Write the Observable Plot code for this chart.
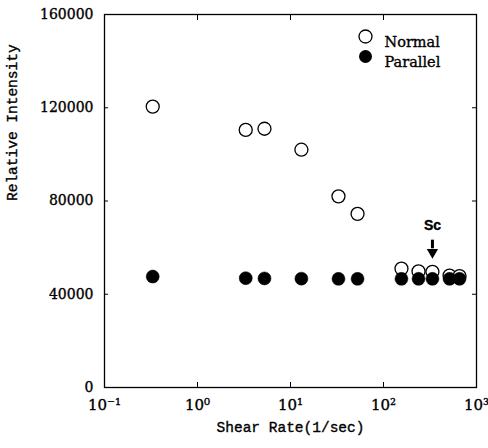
<!DOCTYPE html>
<html><head><meta charset="utf-8">
<script src="https://cdn.jsdelivr.net/npm/d3@7"></script>
<script src="https://cdn.jsdelivr.net/npm/@observablehq/plot@0.6"></script>
<style>body{margin:0;background:#fff} svg text{stroke:black;stroke-width:0.35px}</style>
</head><body><div id="chart"></div>
<script>
// Data
const shearRate = [0.33, 3.3, 5.25, 13.1, 32.8, 52.6, 156, 238, 336, 513, 657];
const normalIntensity = [120500, 110500, 111000, 102000, 82000, 74500, 51000, 49800, 49600, 48000, 47800];
const parallelIntensity = [47600, 46900, 46800, 46700, 46600, 46600, 46600, 46600, 46600, 46600, 46600];
const seriesNames = ["Normal", "Parallel"];
const xTicks = [0.1, 1, 10, 100, 1000];
const xInnerTicks = [1, 10, 100];
const xTickLabels = ["10\u207B\u00B9", "10\u2070", "10\u00B9", "10\u00B2", "10\u00B3"];
const yTicks = [0, 40000, 80000, 120000, 160000];
const yInnerTicks = [40000, 80000, 120000];
const xLabel = "Shear Rate(1/sec)";
const yLabel = "Relative Intensity";
const scRate = [336];
const scText = ["Sc"];
const scTextY = 69500;
const scArrowTop = 63200;
const scArrowShaftEnd = 59500;
const scArrowHead = 58000;

const normal = shearRate.map((x, i) => ({x, y: normalIntensity[i]}));
const parallel = shearRate.map((x, i) => ({x, y: parallelIntensity[i]}));

const chart = Plot.plot({
  width: 488, height: 448,
  marginLeft: 104, marginRight: 12, marginTop: 14, marginBottom: 61,
  x: {type: "log", domain: [0.1, 1000]},
  y: {domain: [0, 160000]},
  style: {fontFamily: "DejaVu Serif", fontSize: "14px", color: "black", background: "white"},
  marks: [
    Plot.frame({stroke: "black", strokeWidth: 1.3}),
    Plot.axisX({ticks: xTicks, tickFormat: d => xTickLabels[Math.round(Math.log10(d)) + 1], tickSize: 0, tickPadding: 12, label: null, fontSize: 15}),
    Plot.axisX({ticks: xInnerTicks, tickSize: -5, tickFormat: () => "", label: null}),
    Plot.axisX({anchor: "top", ticks: xInnerTicks, tickSize: -5, tickFormat: () => "", label: null}),
    Plot.axisY({ticks: yTicks, tickFormat: d3.format("d"), tickSize: 0, tickPadding: 11, label: null}),
    Plot.axisY({ticks: yInnerTicks, tickSize: -4, tickFormat: () => "", label: null}),
    Plot.axisY({anchor: "right", ticks: yInnerTicks, tickSize: -5, tickFormat: () => "", label: null}),
    Plot.text([yLabel], {frameAnchor: "left", dx: -92, rotate: -90, fontFamily: "Liberation Mono", fontSize: 14.5, text: d => d}),
    Plot.text([xLabel], {frameAnchor: "bottom", dy: 44, fontFamily: "Liberation Mono", fontSize: 14.5, text: d => d}),
    Plot.dot(normal, {x: "x", y: "y", r: 6.5, stroke: "black", strokeWidth: 1.3, fill: "white"}),
    Plot.dot(parallel, {x: "x", y: "y", r: 6.5, fill: "black", stroke: "black", strokeWidth: 0.5}),
    Plot.text(scText, {x: () => scRate[0], y: () => scTextY, text: d => d, fontFamily: "Liberation Sans", fontWeight: "bold", fontSize: 14}),
    Plot.ruleX(scRate, {x: d => d, y1: scArrowTop, y2: scArrowShaftEnd, strokeWidth: 3}),
    Plot.dot(scRate, {x: d => d, y: scArrowHead, symbol: "triangle", rotate: 180, r: 4.2, fill: "black"}),
    // legend
    Plot.dot([seriesNames[0]], {frameAnchor: "top-right", dx: -111, dy: 22, r: 6.5, stroke: "black", strokeWidth: 1.3, fill: "white"}),
    Plot.dot([seriesNames[1]], {frameAnchor: "top-right", dx: -111, dy: 42, r: 6.5, fill: "black"}),
    Plot.text([seriesNames[0]], {frameAnchor: "top-right", dx: -92, dy: 22, text: d => d, textAnchor: "start", fontSize: 14.5, letterSpacing: "1px"}),
    Plot.text([seriesNames[1]], {frameAnchor: "top-right", dx: -92, dy: 42, text: d => d, textAnchor: "start", fontSize: 14.5, letterSpacing: "1px"})
  ]
});
document.getElementById("chart").appendChild(chart);
</script>
</body></html>
